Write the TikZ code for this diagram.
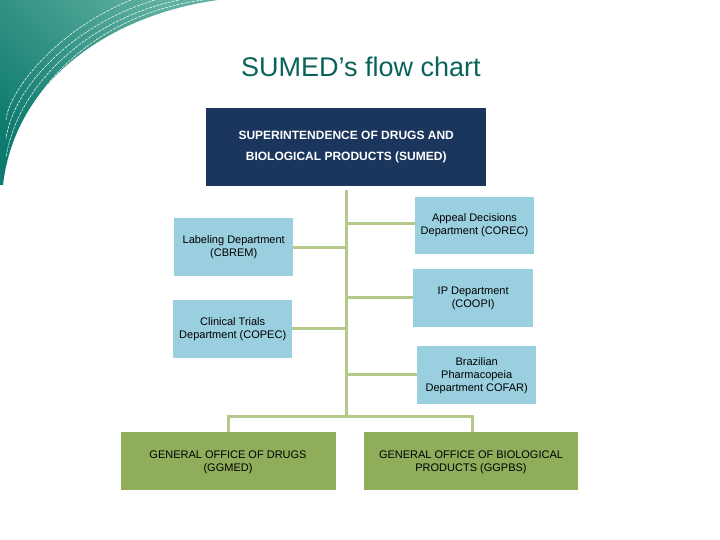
\documentclass[tikz,border=0pt]{standalone}
\usepackage{fontspec}
\setmainfont{Liberation Sans}
\definecolor{navy}{HTML}{1B365D}
\definecolor{lblue}{HTML}{9ACFDF}
\definecolor{olive}{HTML}{8FAD5A}
\definecolor{lineg}{HTML}{B5C98A}
\definecolor{teal}{HTML}{0E7A70}
\definecolor{tealL}{HTML}{5FB09E}
\tikzset{
 dept/.style={fill=lblue,draw=none,anchor=north west,align=center,font=\fontsize{11}{13}\selectfont,inner sep=0pt},
 office/.style={fill=olive,draw=none,anchor=north west,font=\fontsize{11}{13}\selectfont,inner sep=0pt},
 conn/.style={draw=lineg,line width=3pt}
}
\begin{document}
\begin{tikzpicture}[x=1pt,y=-1pt]
\useasboundingbox (0,0) rectangle (720,540);
% decoration
\shade[left color=teal,right color=tealL,shading angle=135] (0,0) -- (218,0) .. controls (110,15) and (15,80) .. (3,185) -- (0,185) -- cycle;
\foreach \a in {0,6,12,18}{
 \draw[white,line width=0.5pt,dashed,dash pattern=on 3pt off 1pt] (203-\a*4,0) .. controls (110-\a*3,12+\a) and (25-\a,75+\a) .. (6,175-\a*3);
}
\node[text=teal!80!black,font=\fontsize{27}{30}\selectfont] (title) at (361,67) {SUMED’s flow chart};
% top box
\node[fill=navy,text=white,anchor=north west,minimum width=280pt,minimum height=78pt,inner sep=0pt,align=center,font=\bfseries\fontsize{12}{21}\selectfont] (top) at (206,108) {SUPERINTENDENCE OF DRUGS AND\\BIOLOGICAL PRODUCTS  (SUMED)};
% departments
\node[dept,minimum width=119pt,minimum height=58pt] (lab) at (174,218) {Labeling  Department\\(CBREM)};
\node[dept,minimum width=119pt,minimum height=58pt] (cli) at (173,300) {Clinical Trials\\Department (COPEC)};
\node[dept,minimum width=119pt,minimum height=57pt,anchor=north west] (app) at (415,197) {};
\node[font=\fontsize{11}{13}\selectfont,align=center] (appt) at (474.5,225) {Appeal Decisions\\Department (COREC)};
\node[dept,minimum width=120pt,minimum height=58pt] (ip) at (413,269) {IP Department\\(COOPI)};
\node[dept,minimum width=119pt,minimum height=58pt] (br) at (417,346) {Brazilian\\Pharmacopeia\\Department COFAR)};
% offices
\node[office,minimum width=215pt,minimum height=58pt] (gg1) at (121,432) {};
\node[font=\fontsize{11}{13}\selectfont,align=center,anchor=north] (gg1t) at (228,447) {GENERAL OFFICE OF DRUGS\\(GGMED)};
\node[office,minimum width=214pt,minimum height=58pt] (gg2) at (364,432) {};
\node[font=\fontsize{11}{13}\selectfont,align=center,anchor=north] (gg2t) at (471,447) {GENERAL OFFICE OF BIOLOGICAL\\PRODUCTS  (GGPBS)};
% connectors
\coordinate (t0) at (346,190);
\coordinate (t1) at (346,416);
\draw[conn] (t0) -- (t1);
\draw[conn] (346,224) -- (app.west |- 0,224);
\draw[conn] (346,247) -- (lab.east |- 0,247);
\draw[conn] (346,297) -- (ip.west |- 0,297);
\draw[conn] (346,328) -- (cli.east |- 0,328);
\draw[conn] (346,374) -- (br.west |- 0,374);
\draw[conn] (gg1.north -| 228,0) -- (228,416) -- (472,416) -- (gg2.north -| 472,0);
\end{tikzpicture}
\end{document}
